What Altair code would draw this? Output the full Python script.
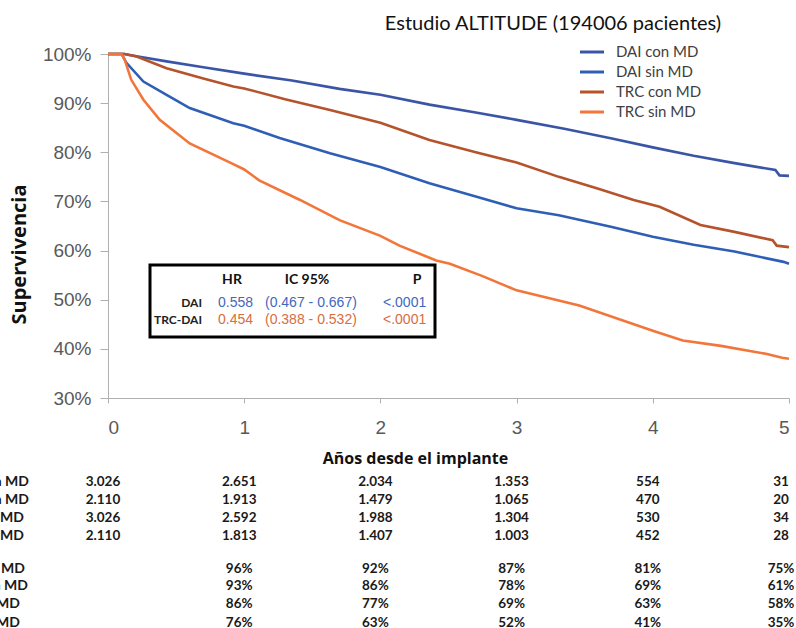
import altair as alt
import pandas as pd

# ---------------- data ----------------
series_names = ["DAI con MD", "DAI sin MD", "TRC con MD", "TRC sin MD"]
series_colors = ["#3a55a6", "#2f5fb4", "#b5532d", "#f2763a"]

t_dai_con = [0, 0.12, 0.22, 0.43, 0.7, 1.0, 1.35, 1.7, 2.0, 2.36, 2.7, 3.0, 3.35, 3.7, 4.0, 4.3, 4.6, 4.9, 4.93, 5.0]
v_dai_con = [100, 100, 99.5, 98.5, 97.3, 96.0, 94.6, 92.9, 91.7, 89.7, 88.1, 86.6, 84.8, 82.8, 81.0, 79.3, 77.8, 76.4, 75.3, 75.2]

t_trc_con = [0, 0.12, 0.21, 0.43, 0.7, 0.92, 1.0, 1.3, 1.63, 2.0, 2.36, 2.7, 3.0, 3.31, 3.6, 3.86, 4.05, 4.35, 4.6, 4.88, 4.91, 5.0]
v_trc_con = [100, 100, 99.5, 97.1, 95.0, 93.4, 93.0, 90.8, 88.6, 86.0, 82.5, 80.0, 77.9, 75.0, 72.6, 70.3, 68.9, 65.2, 63.8, 62.1, 61.0, 60.7]

t_dai_sin = [0, 0.1, 0.135, 0.26, 0.43, 0.6, 0.92, 1.0, 1.26, 1.63, 2.0, 2.36, 2.7, 3.0, 3.31, 3.7, 4.0, 4.3, 4.6, 4.96, 5.0]
v_dai_sin = [100, 100, 98.2, 94.4, 91.7, 89.0, 85.9, 85.4, 82.9, 79.8, 77.0, 73.7, 71.0, 68.6, 67.2, 64.8, 62.8, 61.2, 59.8, 57.7, 57.3]

t_trc_sin = [0, 0.1, 0.123, 0.17, 0.26, 0.38, 0.6, 0.92, 1.0, 1.11, 1.41, 1.7, 2.0, 2.14, 2.41, 2.51, 2.75, 3.0, 3.46, 4.0, 4.22, 4.5, 4.83, 4.95, 5.0]
v_trc_sin = [100, 100, 98.8, 94.8, 90.7, 86.6, 81.8, 77.6, 76.5, 74.3, 70.3, 66.2, 63.0, 61.0, 58.0, 57.3, 54.8, 51.9, 48.8, 43.7, 41.7, 40.6, 39.0, 38.2, 38.0]

table_cols = [0, 1, 2, 3, 4, 5]
row_labels = ["DAI con MD", "TRC con MD", "DAI sin MD", "TRC sin MD",
              "DAI con MD", "TRC con MD", "DAI sin MD", "TRC sin MD"]
risk_rows = [
    ["3.026", "2.651", "2.034", "1.353", "554", "31"],
    ["2.110", "1.913", "1.479", "1.065", "470", "20"],
    ["3.026", "2.592", "1.988", "1.304", "530", "34"],
    ["2.110", "1.813", "1.407", "1.003", "452", "28"],
]
pct_rows = [
    ["", "96%", "92%", "87%", "81%", "75%"],
    ["", "93%", "86%", "78%", "69%", "61%"],
    ["", "86%", "77%", "69%", "63%", "58%"],
    ["", "76%", "63%", "52%", "41%", "35%"],
]

hr_labels = ["DAI", "TRC-DAI"]
hr_values = ["0.558", "0.454"]
hr_ic = ["(0.467 - 0.667)", "(0.388 - 0.532)"]
hr_p = ["<.0001", "<.0001"]
hr_colors = ["#4467bd", "#d76d40"]

title_text = "Estudio ALTITUDE (194006 pacientes)"

# ---------------- layout ----------------
W, H = 681, 344
PAD = {"left": 108, "top": 54, "right": 7, "bottom": 230}
row_y = [428, 446, 464, 482, 515, 532, 550, 569]          # relative to plot top
label_right = [-79, -79, -84, -84, -83, -80, -88, -88]     # relative to plot left
legend_y = [-2, 18, 38, 58]

SANS = "Liberation Sans"
CAL = "Lato"

rows = []
for name, ts, vs in zip(series_names,
                        [t_dai_con, t_dai_sin, t_trc_con, t_trc_sin],
                        [v_dai_con, v_dai_sin, v_trc_con, v_trc_sin]):
    for t, v in zip(ts, vs):
        rows.append({"serie": name, "t": t, "v": v})
df = pd.DataFrame(rows)

x_scale = alt.Scale(domain=[0, 5], nice=False, zero=False)
color_scale = alt.Scale(domain=series_names, range=series_colors)

lines = alt.Chart(df).mark_line(strokeWidth=2.6).encode(
    x=alt.X("t:Q", scale=x_scale,
            axis=alt.Axis(values=table_cols, format="d", title="Años desde el implante",
                          grid=False, domainColor="#b0b0b0", tickColor="#b0b0b0",
                          tickSize=5, labelFont=SANS, labelFontSize=19, labelColor="#595959",
                          labelPadding=15, titleFont="Open Sans", titleFontSize=16,
                          titleFontWeight="bold", titleColor="#111111", titleX=307, titleY=60,
                          titleBaseline="middle")),
    y=alt.Y("v:Q", scale=alt.Scale(domain=[30, 100], nice=False, zero=False),
            axis=alt.Axis(values=[30, 40, 50, 60, 70, 80, 90, 100], labelExpr="datum.value + '%'",
                          title="Supervivencia", grid=False, domainColor="#b0b0b0",
                          tickColor="#b0b0b0", tickSize=8, labelFont=SANS, labelFontSize=19,
                          labelColor="#595959", labelPadding=9, titleFont="Open Sans",
                          titleFontSize=20, titleFontWeight="bold", titleColor="#111111",
                          titleX=-89, titleY=200, titleBaseline="middle", titleAlign="center")),
    color=alt.Color("serie:N", scale=color_scale, legend=None),
    order=alt.Order("t:Q"),
)

layers = [lines]

# legend (drawn by hand)
for i, name in enumerate(series_names):
    ldf = pd.DataFrame({"serie": [name]})
    layers.append(alt.Chart(ldf).mark_rule(strokeWidth=3).encode(
        color=alt.Color("serie:N", scale=color_scale, legend=None),
        x=alt.value(472), x2=alt.value(496), y=alt.value(legend_y[i])))
    layers.append(alt.Chart(ldf).mark_text(font=CAL, fontSize=15, color="#404040",
                                           align="left", baseline="middle").encode(
        text="serie:N", x=alt.value(508), y=alt.value(legend_y[i])))

# title
tdf = pd.DataFrame({"txt": [title_text]})
layers.append(alt.Chart(tdf).mark_text(font=CAL, fontSize=20, color="#111111",
                                       align="center", baseline="middle").encode(
    text="txt:N", x=alt.value(445), y=alt.value(-30)))

# HR box
bdf = pd.DataFrame({"k": [0]})
layers.append(alt.Chart(bdf).mark_rect(fill="white", stroke="black", strokeWidth=3).encode(
    x=alt.value(42), x2=alt.value(327), y=alt.value(211), y2=alt.value(283)))
heads = [("HR", 124), ("IC 95%", 199), ("P", 309)]
for txt, xx in heads:
    layers.append(alt.Chart(pd.DataFrame({"txt": [txt]})).mark_text(
        font=CAL, fontSize=14, fontWeight="bold", color="#111111", align="center",
        baseline="middle").encode(text="txt:N", x=alt.value(xx), y=alt.value(226)))
for i in range(2):
    yy = [249, 266][i]
    layers.append(alt.Chart(pd.DataFrame({"txt": [hr_labels[i]]})).mark_text(
        font=CAL, fontSize=12, fontWeight="bold", color="#222222", align="right",
        baseline="middle").encode(text="txt:N", x=alt.value(94), y=alt.value(yy)))
    for txt, xx in [(hr_values[i], 110), (hr_ic[i], 157), (hr_p[i], 275)]:
        layers.append(alt.Chart(pd.DataFrame({"txt": [txt]})).mark_text(
            font=SANS, fontSize=14, color=hr_colors[i], align="left",
            baseline="middle").encode(text="txt:N", x=alt.value(xx), y=alt.value(yy)))

# table below
all_rows = risk_rows + pct_rows
for r, vals in enumerate(all_rows):
    tdf = pd.DataFrame({"t": table_cols, "txt": vals})
    tdf = tdf[tdf["txt"] != ""]
    inner = tdf[tdf["t"] < 5]
    last = tdf[tdf["t"] == 5]
    for part, shift in [(inner, -5), (last, -8)]:
        layers.append(alt.Chart(part).mark_text(font=CAL, fontSize=13.5, fontWeight="bold",
                                                color="#1a1a1a", align="center",
                                                baseline="middle", dx=shift).encode(
            x=alt.X("t:Q", scale=x_scale), text="txt:N", y=alt.value(row_y[r])))
    layers.append(alt.Chart(pd.DataFrame({"txt": [row_labels[r]]})).mark_text(
        font=CAL, fontSize=14, fontWeight="bold", color="#1a1a1a", align="right",
        baseline="middle").encode(text="txt:N", x=alt.value(label_right[r]), y=alt.value(row_y[r])))

chart = alt.layer(*layers).properties(
    width=W, height=H, padding=PAD, autosize=alt.AutoSizeParams(type="none"),
    background="white",
).configure_view(stroke=None)

chart.save("out.html", embed_options={"renderer": "svg", "actions": False})
